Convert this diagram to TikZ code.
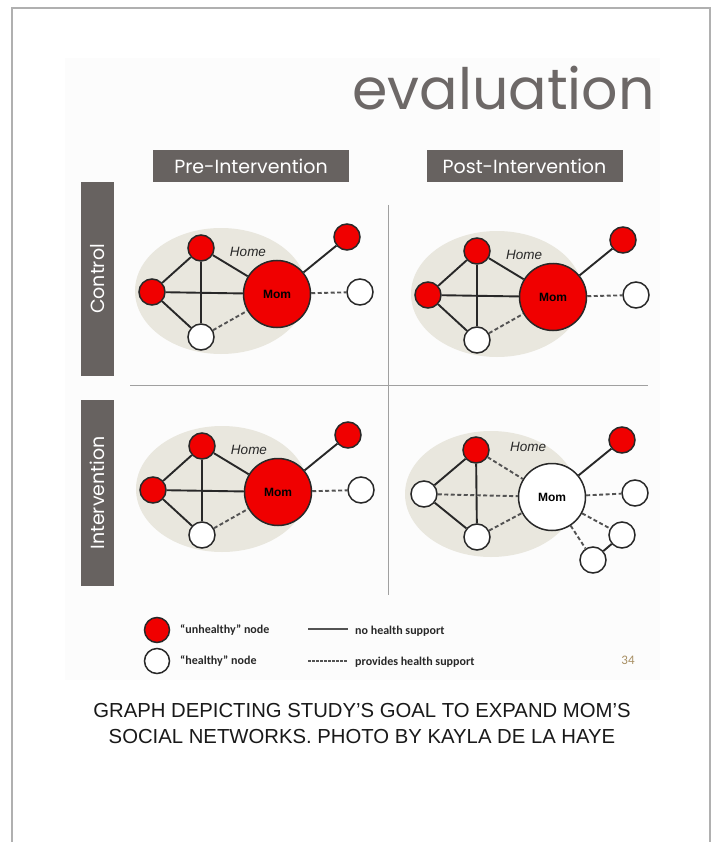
\documentclass[tikz,border=0pt]{standalone}
\usepackage{fontspec}
\setmainfont{Liberation Sans}
\newfontfamily\gothic{Poppins}
\newfontfamily\carlito{Carlito}
\definecolor{boxgray}{RGB}{103,98,96}
\definecolor{nodered}{RGB}{240,0,0}
\definecolor{homefill}{RGB}{233,231,222}
\definecolor{edgecol}{RGB}{40,40,40}
\definecolor{evalgray}{RGB}{109,104,103}
\definecolor{pagegold}{RGB}{168,143,99}
\definecolor{framegray}{RGB}{176,176,176}
\definecolor{divgray}{RGB}{160,160,160}
\tikzset{
  sm/.style={circle, draw=edgecol, line width=1.5pt, minimum size=26pt, inner sep=0pt},
  unh/.style={sm, fill=nodered},
  hea/.style={sm, fill=white},
  momnode/.style={circle, draw=edgecol, line width=1.5pt, minimum size=67pt, inner sep=0pt, font=\bfseries\fontsize{12}{14}\selectfont},
  solidedge/.style={draw=edgecol, line width=1.9pt},
  dashedge/.style={draw=edgecol!80, line width=1.9pt, dash pattern=on 4pt off 2.5pt},
  headbox/.style={fill=boxgray, text=white, minimum width=196pt, minimum height=32pt, inner sep=0pt, font=\gothic\fontsize{19}{22}\selectfont},
  sidebox/.style={fill=boxgray, text=white, minimum width=33pt, inner sep=0pt, font=\gothic\fontsize{19}{22}\selectfont},
  hometext/.style={font=\itshape\fontsize{13.5}{15}\selectfont, text=edgecol},
  legtext/.style={font=\carlito\bfseries\fontsize{12}{14}\selectfont, text=edgecol, anchor=west, inner sep=0pt},
  pics/net/.style={code={
    \fill[homefill] (-56,-3) ellipse [x radius=86, y radius=63];
    \node[hometext] (-hometxt) at (-29,-42) {Home};
    \node[momnode, fill=nodered] (-mom) at (0,0) {Mom};
    \node[unh] (-top) at (-76,-46) {};
    \node[unh] (-left) at (-125,-2) {};
    \node[hea] (-bot) at (-76,43) {};
    \node[unh] (-tr) at (70,-57) {};
    \node[hea] (-right) at (83,-2) {};
    \draw[solidedge] (-top) -- (-left);
    \draw[solidedge] (-top) -- (-bot);
    \draw[solidedge] (-top) -- (-mom);
    \draw[solidedge] (-left) -- (-mom);
    \draw[solidedge] (-left) -- (-bot);
    \draw[dashedge] (-bot) -- (-mom);
    \draw[solidedge] (-mom) -- (-tr);
    \draw[dashedge] (-mom) -- (-right);
  }}
}
\begin{document}
\begin{tikzpicture}[x=1pt, y=-1pt]
\useasboundingbox (0,0) rectangle (713,842);
\fill[white] (0,0) rectangle (713,842);
% outer frame
\draw[framegray, line width=2pt] (12,842) -- (12,8) -- (710,8) -- (710,842);
% slide background
\fill[black!1] (65,58) rectangle (660,680);
% title
\node[font=\gothic\fontsize{57}{60}\selectfont, text=evalgray, anchor=base east, inner sep=0pt] (title) at (655,110) {evaluation};
% column heads
\node[headbox] (pre) at (251,166) {Pre-Intervention};
\node[headbox] (post) at (524.5,166) {Post-Intervention};
% row heads
\node[sidebox, minimum height=194pt] (ctrl) at (97.5,279) {\rotatebox{90}{Control}};
\node[sidebox, minimum height=186pt] (intv) at (97.5,493) {\rotatebox{90}{Intervention}};
% dividers
\draw[divgray, line width=0.8pt] (130,385) -- (648,385);
\draw[divgray, line width=0.8pt] (388,205) -- (388,595);
% quadrants
\pic (tl) at (277,294) {net};
\pic (tr) at (553,297) {net};
\pic (bl) at (278,492) {net};
% bottom-right
\begin{scope}[shift={(552,497)}]
  \fill[homefill] (-61,-3) ellipse [x radius=86, y radius=63];
  \node[hometext] (brhome) at (-24,-50) {Home};
  \node[momnode, fill=white] (brmom) at (0,0) {Mom};
  \node[unh] (brtop) at (-76,-47) {};
  \node[hea] (brleft) at (-128,-3) {};
  \node[hea] (brbot) at (-75,40) {};
  \node[unh] (brtr) at (70,-57) {};
  \node[hea] (brright) at (83,-4) {};
  \node[hea] (brlr) at (70,38) {};
  \node[hea] (brll) at (41,63) {};
  \draw[solidedge] (brtop) -- (brleft);
  \draw[solidedge] (brtop) -- (brbot);
  \draw[dashedge] (brtop) -- (brmom);
  \draw[dashedge] (brleft) -- (brmom);
  \draw[solidedge] (brleft) -- (brbot);
  \draw[dashedge] (brbot) -- (brmom);
  \draw[solidedge] (brmom) -- (brtr);
  \draw[dashedge] (brmom) -- (brright);
  \draw[dashedge] (brmom) -- (brlr);
  \draw[dashedge] (brmom) -- (brll);
  \draw[solidedge] (brlr) -- (brll);
\end{scope}
% legend
\node[sm, fill=nodered, minimum size=25pt] (legred) at (157,630) {};
\node[sm, fill=white, minimum size=25pt] (legwhite) at (157,661) {};
\node[legtext] (legunh) at (180,630) {“unhealthy” node};
\node[legtext] (leghea) at (180,661) {“healthy” node};
\coordinate (ls1) at (308,629);
\coordinate (ls2) at (348,629);
\coordinate (ld1) at (308,661);
\coordinate (ld2) at (348,661);
\draw[draw=edgecol!80, line width=1.6pt] (ls1) -- (ls2);
\draw[draw=edgecol!80, line width=1.2pt, dash pattern=on 2.5pt off 1.5pt] (ld1) -- (ld2);
\node[legtext] (legno) at (355,631) {no health support};
\node[legtext] (legprov) at (355,662) {provides health support};
\node[font=\carlito\fontsize{13}{15}\selectfont, text=pagegold, inner sep=0pt] (pagenum) at (628,660) {34};
% caption
\node[font=\fontsize{20.3}{26}\selectfont, align=center, text=black!90] (caption) at (362,724) {GRAPH DEPICTING STUDY’S GOAL TO EXPAND MOM’S\\SOCIAL NETWORKS. PHOTO BY KAYLA DE LA HAYE};
\end{tikzpicture}
\end{document}
